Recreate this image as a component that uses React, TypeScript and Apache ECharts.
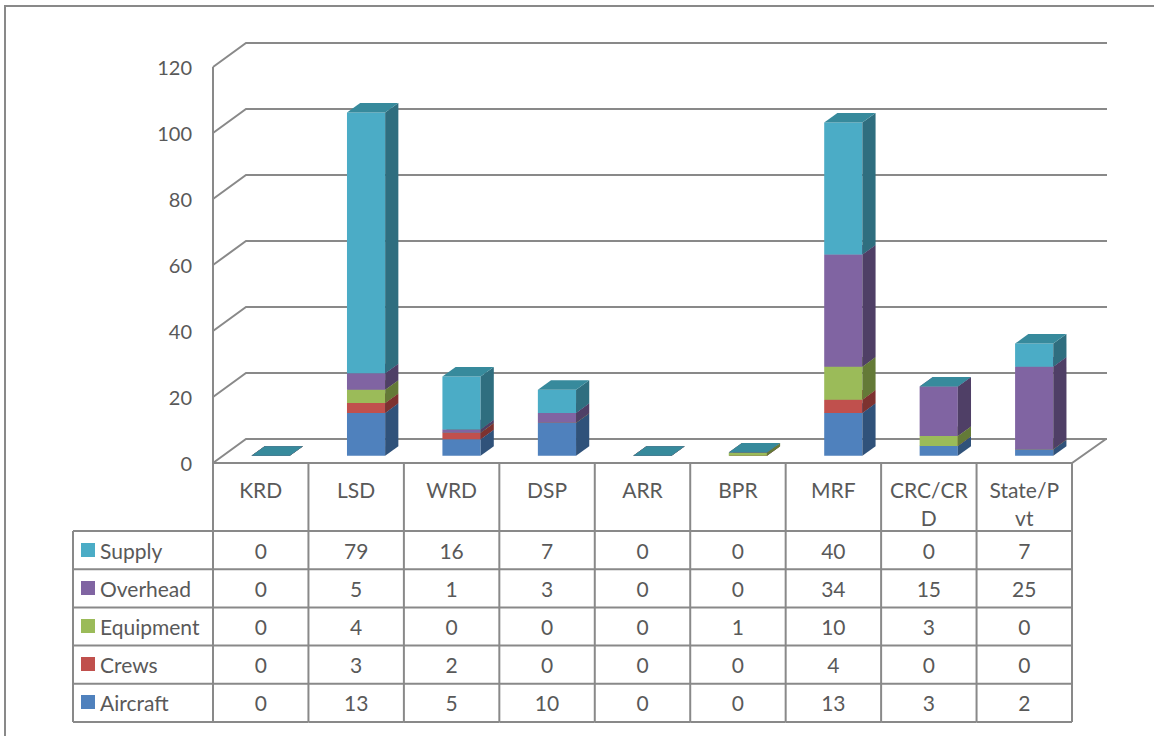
import React, { useEffect, useRef } from "react";
import * as echarts from "echarts";

const categories = ["KRD", "LSD", "WRD", "DSP", "ARR", "BPR", "MRF", "CRC/CRD", "State/Pvt"];
const headerWrap: Record<string, string> = { "CRC/CRD": "CRC/CR\nD", "State/Pvt": "State/P\nvt" };

const aircraft = [0, 13, 5, 10, 0, 0, 13, 3, 2];
const crews = [0, 3, 2, 0, 0, 0, 4, 0, 0];
const equipment = [0, 4, 0, 0, 0, 1, 10, 3, 0];
const overhead = [0, 5, 1, 3, 0, 0, 34, 15, 25];
const supply = [0, 79, 16, 7, 0, 0, 40, 0, 7];

const seriesNames = ["Aircraft", "Crews", "Equipment", "Overhead", "Supply"];
const seriesValues = [aircraft, crews, equipment, overhead, supply];
const tableRowOrder = [4, 3, 2, 1, 0]; // Supply first
const yTicks = [0, 20, 40, 60, 80, 100, 120];

const frontColors = ["#4F81BD", "#C0504D", "#9BBB59", "#8064A2", "#4BACC6"];
const sideColors = ["#30527A", "#7D3230", "#647A37", "#4F3F66", "#2F6E7F"];
const topColors = ["#3E6CA2", "#A13F3C", "#809E45", "#68518E", "#378A9C"];

const FONT = "Lato, 'Open Sans', sans-serif";
const FS = 21;
const TEXT = "#595959";
const GRID_C = "#898989";
const WALL_DX = 33;
const WALL_DY = -24;
const HEADER_H = 68;
const ROW_H = 38.2;
const LEGEND_LEFT = 73;

export default function App() {
  const ref = useRef<HTMLDivElement>(null);
  useEffect(() => {
    if (!ref.current) return;
    const chart = echarts.init(ref.current, null, { renderer: "svg" });

    // stacked ranges
    const stacked: number[][][] = seriesValues.map(() => []);
    categories.forEach((_, i) => {
      let acc = 0;
      seriesValues.forEach((vals, s) => {
        stacked[s].push([i, acc, acc + vals[i]]);
        acc += vals[i];
      });
    });

    const wallSeries: any = {
      type: "custom",
      silent: true,
      clip: false,
      z: 1,
      data: yTicks.map((v) => [0, v]),
      renderItem: (params: any, api: any) => {
        const cs = params.coordSys;
        const v = api.value(1);
        const p = api.coord([0, v]);
        const x0 = cs.x;
        const x1 = cs.x + cs.width;
        const y = p[1];
        const children: any[] = [
          {
            type: "polyline",
            shape: { points: [[x0, y], [x0 + WALL_DX, y + WALL_DY], [x1 + WALL_DX + 2, y + WALL_DY]] },
            style: { stroke: GRID_C, lineWidth: 2, fill: "none" },
          },
        ];
        if (v === 0) {
          const top = api.coord([0, yTicks[yTicks.length - 1]])[1];
          children.push({
            type: "line",
            shape: { x1: x0, y1: top, x2: x0, y2: y },
            style: { stroke: GRID_C, lineWidth: 2 },
          });
          children.push({
            type: "polyline",
            shape: { points: [[x0, y], [x1, y], [x1 + WALL_DX + 1, y + WALL_DY]] },
            style: { stroke: GRID_C, lineWidth: 2, fill: "none" },
          });
        }
        return { type: "group", children };
      },
    };

    const barSeries = seriesNames.map((name, s) => ({
      type: "custom",
      name,
      clip: false,
      z: 2,
      itemStyle: { color: frontColors[s] },
      data: stacked[s],
      renderItem: (params: any, api: any) => {
        const i = api.value(0);
        const lo = api.value(1);
        const hi = api.value(2);
        const band = api.size([1, 0])[0];
        const w = band * 0.4;
        const bdx = WALL_DX * 0.4;
        const bdy = WALL_DY * 0.4;
        const ox = WALL_DX * 0.3;
        const oy = WALL_DY * 0.3;
        const pLo = api.coord([i, lo]);
        const pHi = api.coord([i, hi]);
        const x0 = pLo[0] - w / 2 + ox;
        const x1 = x0 + w;
        const yb = pLo[1] + oy;
        const yt = pHi[1] + oy;
        return {
          type: "group",
          children: [
            {
              type: "rect",
              shape: { x: x0, y: yt, width: w, height: Math.max(0, yb - yt) },
              style: { fill: frontColors[s] },
            },
            {
              type: "polygon",
              shape: { points: [[x1, yb], [x1, yt], [x1 + bdx, yt + bdy], [x1 + bdx, yb + bdy]] },
              style: { fill: sideColors[s] },
            },
            {
              type: "polygon",
              shape: { points: [[x0, yt], [x1, yt], [x1 + bdx, yt + bdy], [x0 + bdx, yt + bdy]] },
              style: { fill: topColors[s] },
            },
          ],
        };
      },
    }));

    const tableSeries: any = {
      type: "custom",
      silent: true,
      clip: false,
      z: 3,
      data: categories.map((_, i) => [i, 0]),
      renderItem: (params: any, api: any) => {
        const cs = params.coordSys;
        const i = api.value(0);
        const p = api.coord([i, 0]);
        const half = api.size([1, 0])[0] / 2;
        const xl = p[0] - half;
        const xr = p[0] + half;
        const top = cs.y + cs.height;
        const rowsTop = top + HEADER_H;
        const bottom = rowsTop + ROW_H * tableRowOrder.length;
        const children: any[] = [];
        const ln = (a: number, b: number, c: number, d: number) => ({
          type: "line",
          shape: { x1: a, y1: b, x2: c, y2: d },
          style: { stroke: GRID_C, lineWidth: 2 },
        });
        children.push(ln(xr, top, xr, bottom));
        if (i === 0) {
          children.push(ln(xl, top, xl, bottom));
          children.push(ln(LEGEND_LEFT, rowsTop, LEGEND_LEFT, bottom));
        }
        for (let r = 0; r <= tableRowOrder.length; r++) {
          const y = rowsTop + r * ROW_H;
          children.push(ln(i === 0 ? LEGEND_LEFT : xl, y, xr, y));
        }
        tableRowOrder.forEach((s, r) => {
          children.push({
            type: "text",
            style: {
              text: String(seriesValues[s][i]),
              x: p[0],
              y: rowsTop + r * ROW_H + ROW_H / 2,
              align: "center",
              verticalAlign: "middle",
              fontSize: FS,
              fontFamily: FONT,
              fill: TEXT,
            },
          });
        });
        return { type: "group", children };
      },
    };

    chart.setOption({
      animation: false,
      color: frontColors,
      grid: { left: 213, right: 82, top: 67, bottom: 273, containLabel: false },
      xAxis: {
        type: "category",
        data: categories,
        axisLine: { show: false },
        axisTick: { show: false },
        splitLine: { show: false },
        axisLabel: {
          margin: 12,
          interval: 0,
          fontSize: FS,
          lineHeight: 28,
          fontFamily: FONT,
          color: TEXT,
          formatter: (v: string) => headerWrap[v] ?? v,
        },
      },
      yAxis: {
        type: "value",
        min: 0,
        max: 120,
        interval: 20,
        axisLine: { show: false },
        axisTick: { show: false },
        splitLine: { show: false },
        axisLabel: { margin: 21, fontSize: 20, fontFamily: FONT, color: TEXT },
      },
      legend: {
        orient: "vertical",
        left: 81,
        top: 538,
        padding: 0,
        itemWidth: 14,
        itemHeight: 14,
        itemGap: 14,
        icon: "rect",
        selectedMode: false,
        data: ["Supply", "Overhead", "Equipment", "Crews", "Aircraft"],
        textStyle: { fontSize: FS, lineHeight: 24, fontFamily: FONT, color: TEXT },
      },
      graphic: [
        {
          type: "rect",
          silent: true,
          shape: { x: 5, y: 6, width: 1200, height: 800 },
          style: { fill: "none", stroke: GRID_C, lineWidth: 2 },
        },
      ],
      series: [wallSeries, ...barSeries, tableSeries],
    });
    return () => chart.dispose();
  }, []);
  return (
    <div
      ref={ref}
      style={{ position: "fixed", left: 0, top: 0, width: 1154, height: 736, background: "#fff" }}
    />
  );
}
